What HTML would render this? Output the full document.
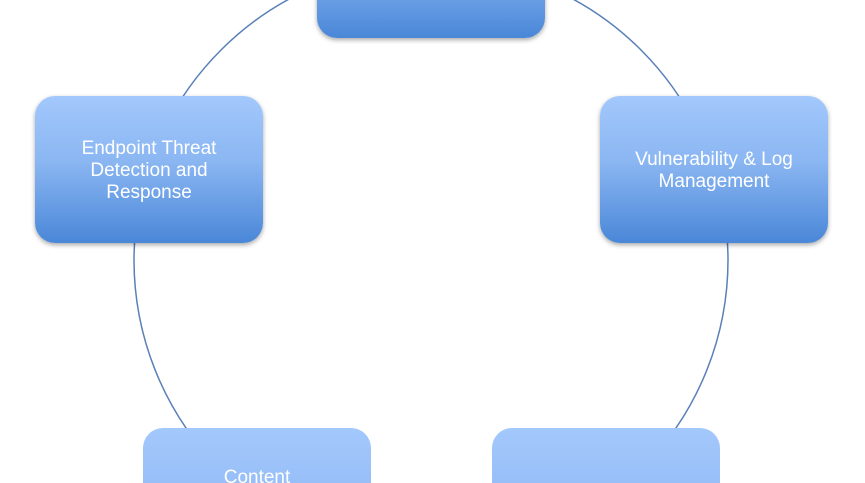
<!DOCTYPE html>
<html style="margin:0;width:865px;height:483px;overflow:hidden"><head><style>
body{margin:0;width:865px;height:483px;overflow:hidden;background:#fff;position:relative;font-family:"Liberation Sans",sans-serif}
.b{position:absolute;width:228px;height:147px;border-radius:20px;background:linear-gradient(#a3c8fc 0%,#8ab6f2 45%,#4a87d8 100%);box-shadow:0 2px 5px rgba(0,0,0,.35);color:#fff;font-size:19px;line-height:22px;text-align:center;display:flex;align-items:center;justify-content:center;box-sizing:border-box;padding:0 18px}
.c{height:55px;border-radius:20px 20px 0 0;background:linear-gradient(#a3c8fc 0%,#98bff8 100%);align-items:flex-start;box-shadow:none}
svg{position:absolute;left:0;top:0}
#wrap{position:absolute;left:0;top:0;width:865px;height:483px;overflow:hidden}
</style></head><body><div id="wrap">
<svg width="865" height="483"><circle cx="431" cy="260" r="297" fill="none" stroke="#5a80b8" stroke-width="1.5"/></svg>
<div class="b" style="left:317px;top:-109px"></div>
<div class="b" style="left:35px;top:96px;padding-top:2px">Endpoint Threat Detection and Response</div>
<div class="b" style="left:600px;top:96px;padding-top:2px">Vulnerability &amp; Log Management</div>
<div class="b c" style="left:143px;top:428px;padding-top:39px">Content</div>
<div class="b c" style="left:492px;top:428px"></div>
</div></body></html>
